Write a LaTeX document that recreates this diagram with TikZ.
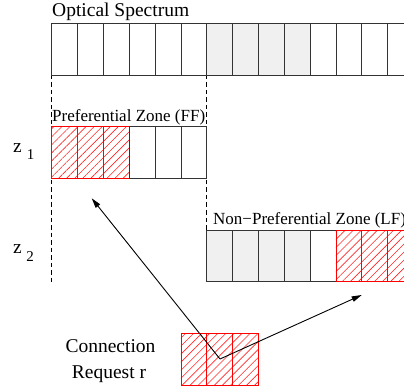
\documentclass[tikz,border=0pt]{standalone}
\usepackage{fontspec}
\setmainfont{Liberation Serif}
\usetikzlibrary{patterns.meta,arrows.meta}
\begin{document}
\begin{tikzpicture}[x=1pt,y=-1pt,
  slot/.style={draw=black!80,line width=0.9pt},
  grayslot/.style={slot,fill=black!6},
  redslot/.style={draw=red,line width=0.9pt,pattern={Lines[angle=45,distance=5.7pt,line width=0.6pt]},pattern color=red!85},
  guide/.style={draw=black,line width=0.8pt,dash pattern=on 4.5pt off 3pt},
  link/.style={draw=black,line width=0.9pt,-{Triangle[length=10pt,width=5.5pt]}},
  lbig/.style={font=\fontsize{19.5}{24}\selectfont,inner sep=0pt,anchor=base west},
  lmid/.style={font=\fontsize{17}{20}\selectfont,inner sep=0pt,anchor=base west}]
\useasboundingbox (0,0) rectangle (404,390);
\clip (0,0) rectangle (404,390);
\def\xo{51.7}
\def\w{25.85}
% guides
\coordinate (gl1) at (51.7,75);
\coordinate (gl2) at (51.7,282);
\coordinate (gr1) at (206.7,75);
\coordinate (gr2) at (206.7,230);
\draw[guide] (gl1) -- (gl2);
\draw[guide] (gr1) -- (gr2);
% optical spectrum
\foreach \i in {0,...,13}{
  \pgfmathsetmacro{\a}{\xo+\i*\w}
  \ifnum\i>5 \ifnum\i<10
    \draw[grayslot] (\a,23.3) rectangle ++(\w,51.7);
  \else
    \draw[slot] (\a,23.3) rectangle ++(\w,51.7);
  \fi\else
    \draw[slot] (\a,23.3) rectangle ++(\w,51.7);
  \fi
}
% preferential zone
\foreach \i in {0,1,2}{
  \pgfmathsetmacro{\a}{\xo+\i*\w}
  \draw[redslot] (\a,126.7) rectangle ++(\w,51.6);
}
\foreach \i in {3,4,5}{
  \pgfmathsetmacro{\a}{\xo+\i*\w}
  \draw[slot] (\a,126.7) rectangle ++(\w,51.6);
}
% non-preferential zone
\foreach \i in {0,...,3}{
  \pgfmathsetmacro{\a}{206.7+\i*\w}
  \draw[grayslot] (\a,230) rectangle ++(\w,51.7);
}
\draw[slot] (310.1,230) rectangle ++(\w,51.7);
\foreach \i in {5,6,7}{
  \pgfmathsetmacro{\a}{206.7+\i*\w}
  \draw[redslot] (\a,230) rectangle ++(\w,51.7);
}
% request
\foreach \i in {0,1,2}{
  \pgfmathsetmacro{\a}{180.95+\i*\w}
  \draw[redslot] (\a,333.3) rectangle ++(\w,51.7);
}
% labels
\node[lbig] (spec) at (52,16.7) {Optical Spectrum};
\node[lmid] (ff) at (52,121.7) {Preferential Zone (FF)};
\node[lmid] (lf) at (213,224) {Non−Preferential Zone (LF)};
\node[lbig] (z1) at (13,152.7) {z\hspace{5pt}\raisebox{-6.6pt}{\fontsize{15}{15}\selectfont 1}};
\node[lbig] (z2) at (13,253) {z\hspace{4.5pt}\raisebox{-8.7pt}{\fontsize{15}{15}\selectfont 2}};
\node[font=\fontsize{19.5}{24}\selectfont,inner sep=0pt,anchor=base] (c1) at (110.5,352.7) {Connection};
\node[font=\fontsize{19.5}{24}\selectfont,inner sep=0pt,anchor=base] (c2) at (109,378.3) {Request r};
% arrows
\coordinate (src) at (220,359);
\coordinate (t1) at (91.7,198.3);
\coordinate (t2) at (361.7,295);
\draw[link] (src) -- (t1);
\draw[link] (src) -- (t2);
\end{tikzpicture}
\end{document}
